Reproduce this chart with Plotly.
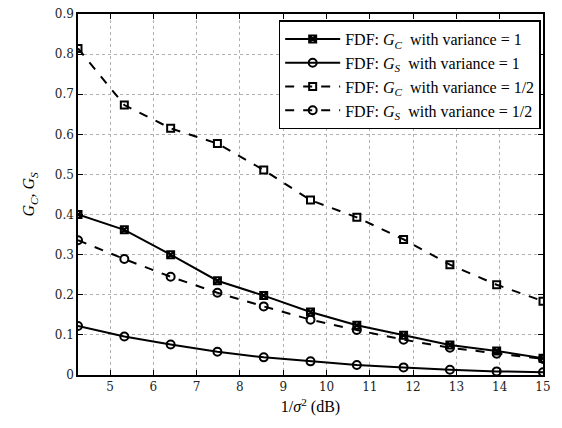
import plotly.graph_objects as go

x_db = [4.26, 5.33, 6.4, 7.48, 8.55, 9.63, 10.7, 11.78, 12.85, 13.93, 15.0]
gc_var1 = [0.400, 0.362, 0.300, 0.235, 0.198, 0.157, 0.124, 0.099, 0.075, 0.060, 0.042]
gs_var1 = [0.122, 0.096, 0.076, 0.058, 0.044, 0.034, 0.025, 0.019, 0.013, 0.009, 0.007]
gc_var_half = [0.814, 0.673, 0.615, 0.577, 0.511, 0.436, 0.393, 0.338, 0.275, 0.225, 0.184]
gs_var_half = [0.336, 0.289, 0.245, 0.205, 0.171, 0.138, 0.112, 0.088, 0.068, 0.053, 0.040]

names = [
    "FDF: <i>G</i><sub><i>C</i></sub>  with variance = 1",
    "FDF: <i>G</i><sub><i>S</i></sub>  with variance = 1",
    "FDF: <i>G</i><sub><i>C</i></sub>  with variance = 1/2",
    "FDF: <i>G</i><sub><i>S</i></sub>  with variance = 1/2",
]
x_ticks = list(range(5, 16))
y_ticks = [0, 0.1, 0.2, 0.3, 0.4, 0.5, 0.6, 0.7, 0.8, 0.9]
y_tick_text = ["0", "0.1", "0.2", "0.3", "0.4", "0.5", "0.6", "0.7", "0.8", "0.9"]

series = [gc_var1, gs_var1, gc_var_half, gs_var_half]
dashes = ["solid", "solid", "dash", "dash"]
symbols = ["square-x-open", "circle-open", "square-open", "circle-open"]
sizes = [7, 8, 7, 8]

fig = go.Figure()
for ys, nm, d, s, sz in zip(series, names, dashes, symbols, sizes):
    fig.add_trace(go.Scatter(
        x=x_db, y=ys, name=nm, mode="lines+markers",
        line=dict(color="black", width=2, dash=d),
        marker=dict(symbol=s, size=sz, color="black", line=dict(color="black", width=2)),
    ))

font = "Liberation Serif"
tickfont = "DejaVu Serif"
axis_common = dict(
    showline=True, linecolor="black", linewidth=1.5, mirror="ticks",
    ticks="inside", ticklen=5, tickcolor="black",
    showgrid=True, gridcolor="#b0b0b0", griddash="dot", gridwidth=1,
    zeroline=False, tickfont=dict(family=tickfont, size=12, color="#222"),
)
fig.update_xaxes(range=[4.26, 15], tickvals=x_ticks, **axis_common,
                 title=dict(text="1/<i>σ</i><sup>2</sup> (dB)", font=dict(family=font, size=16, color="black"), standoff=8))
fig.update_yaxes(range=[0, 0.9], tickvals=y_ticks, ticktext=y_tick_text, **axis_common,
                 title=dict(text="<i>G</i><sub><i>C</i></sub>, <i>G</i><sub><i>S</i></sub>", font=dict(family=font, size=16, color="black"), standoff=16))

fig.update_layout(
    width=562, height=428,
    margin=dict(l=78, r=19, t=7, b=53),
    plot_bgcolor="white", paper_bgcolor="white",
    font=dict(family=font, color="black"),
    legend=dict(x=0.995, y=0.982, xanchor="right", yanchor="top",
                bgcolor="white", bordercolor="black", borderwidth=1.5,
                font=dict(family=font, size=16, color="black"),
                itemwidth=55, tracegroupgap=0),
    showlegend=True,
)
fig.write_html("out.html", config={"displayModeBar": False})

with open("out.html", "r", encoding="utf-8") as f:
    html = f.read()
html = html.replace("<head>", "<head><style>html,body{margin:0;padding:0;overflow:hidden;}</style>", 1)
with open("out.html", "w", encoding="utf-8") as f:
    f.write(html)
